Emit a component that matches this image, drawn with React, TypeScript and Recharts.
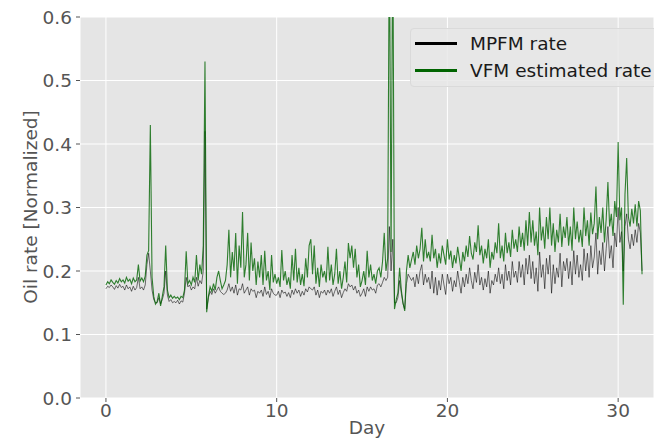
import React from 'react';
import { LineChart, Line, XAxis, YAxis, CartesianGrid, Legend } from 'recharts';

// VFM estimated oil rate, sampled every 0.1 day
const vfmRate = [
  0.178, 0.183, 0.18, 0.186, 0.182, 0.179, 0.185, 0.181, 0.188, 0.183,
  0.186, 0.181, 0.19, 0.184, 0.187, 0.18, 0.189, 0.183, 0.186, 0.21,
  0.184, 0.189, 0.183, 0.192, 0.225, 0.232, 0.43, 0.19, 0.16, 0.148,
  0.152, 0.165, 0.145, 0.16, 0.175, 0.24, 0.17, 0.158, 0.162, 0.157,
  0.16, 0.157, 0.159, 0.155, 0.16, 0.158, 0.17, 0.231, 0.18, 0.185,
  0.178, 0.19, 0.182, 0.225, 0.185, 0.21, 0.195, 0.24, 0.53, 0.135,
  0.16, 0.175, 0.168, 0.18, 0.17, 0.19, 0.2, 0.185, 0.172, 0.178,
  0.185, 0.21, 0.265, 0.19, 0.23, 0.2, 0.26, 0.18, 0.24, 0.205,
  0.293, 0.19, 0.21, 0.26, 0.185, 0.245, 0.2, 0.22, 0.178, 0.215,
  0.19, 0.225, 0.178, 0.232, 0.185, 0.2, 0.17, 0.225, 0.182, 0.195,
  0.18, 0.19, 0.175, 0.233, 0.185, 0.2, 0.178, 0.19, 0.172, 0.225,
  0.185, 0.235, 0.182, 0.205, 0.178, 0.195, 0.176, 0.22, 0.19, 0.24,
  0.25, 0.195, 0.24, 0.18, 0.205, 0.175, 0.21, 0.19, 0.2, 0.182,
  0.238, 0.185, 0.21, 0.178, 0.195, 0.235, 0.18, 0.2, 0.172, 0.19,
  0.215, 0.182, 0.244, 0.22, 0.24, 0.205, 0.235, 0.19, 0.21, 0.175,
  0.185, 0.2, 0.178, 0.232, 0.19, 0.21, 0.185, 0.195, 0.18, 0.2,
  0.205, 0.19, 0.215, 0.26, 0.2, 0.22, 0.75, 0.23, 0.75, 0.14,
  0.155, 0.165, 0.205, 0.17, 0.15, 0.137, 0.2, 0.225, 0.205, 0.218,
  0.23, 0.21, 0.24, 0.22, 0.235, 0.268, 0.215, 0.25, 0.22, 0.23,
  0.215, 0.257, 0.22, 0.235, 0.205, 0.228, 0.212, 0.24, 0.225, 0.21,
  0.25, 0.218, 0.232, 0.205, 0.225, 0.212, 0.238, 0.22, 0.2, 0.23,
  0.215, 0.24, 0.222, 0.255, 0.228, 0.218, 0.245, 0.23, 0.272, 0.225,
  0.24, 0.212, 0.235, 0.22, 0.25, 0.205, 0.23, 0.218, 0.245, 0.228,
  0.275, 0.22, 0.24, 0.215, 0.26, 0.228, 0.245, 0.222, 0.265, 0.235,
  0.25, 0.23, 0.27, 0.238, 0.26, 0.232, 0.28, 0.24, 0.293, 0.245,
  0.28, 0.24, 0.262, 0.225, 0.3, 0.248, 0.27, 0.235, 0.285, 0.25,
  0.3, 0.24, 0.275, 0.23, 0.265, 0.245, 0.29, 0.238, 0.27, 0.252,
  0.285, 0.24, 0.27, 0.232, 0.3, 0.25, 0.278, 0.245, 0.265, 0.238,
  0.3, 0.255, 0.28, 0.24, 0.292, 0.258, 0.275, 0.333, 0.25, 0.285,
  0.26, 0.3, 0.245, 0.282, 0.34, 0.27, 0.29, 0.255, 0.31, 0.285,
  0.403, 0.28, 0.3, 0.147, 0.32, 0.378, 0.285, 0.27, 0.298, 0.275,
  0.305, 0.27, 0.31, 0.295, 0.195,
];

// MPFM measured oil rate, same sampling
const mpfmRate = [
  0.172, 0.176, 0.174, 0.178, 0.175, 0.171, 0.177, 0.173, 0.179, 0.174,
  0.176, 0.17, 0.178, 0.172, 0.175, 0.168, 0.176, 0.17, 0.174, 0.19,
  0.172, 0.175, 0.17, 0.178, 0.21, 0.228, 0.2, 0.17, 0.155, 0.15,
  0.15, 0.158, 0.148, 0.155, 0.165, 0.2, 0.162, 0.152, 0.155, 0.15,
  0.152, 0.15, 0.154, 0.148, 0.153, 0.151, 0.165, 0.19, 0.175, 0.178,
  0.17, 0.175, 0.172, 0.19, 0.176, 0.185, 0.18, 0.2, 0.42, 0.14,
  0.158, 0.168, 0.163, 0.172, 0.165, 0.17, 0.175, 0.168, 0.165, 0.163,
  0.165, 0.17, 0.18, 0.168, 0.175, 0.165, 0.178, 0.162, 0.172, 0.17,
  0.18, 0.165, 0.17, 0.175, 0.162, 0.172, 0.168, 0.17, 0.158, 0.168,
  0.165, 0.17, 0.16, 0.175, 0.163, 0.168, 0.158, 0.172, 0.165, 0.162,
  0.162, 0.168, 0.158, 0.17, 0.165, 0.167, 0.16, 0.166, 0.158, 0.17,
  0.163, 0.172, 0.165, 0.17, 0.16, 0.168, 0.162, 0.172, 0.167, 0.175,
  0.172, 0.17, 0.175, 0.162, 0.17, 0.158, 0.168, 0.165, 0.17, 0.162,
  0.17, 0.165, 0.172, 0.16, 0.168, 0.175, 0.163, 0.17, 0.158, 0.166,
  0.172, 0.168, 0.18, 0.175, 0.178, 0.17, 0.176, 0.165, 0.17, 0.16,
  0.165, 0.172, 0.16, 0.175, 0.168, 0.175, 0.17, 0.172, 0.165, 0.178,
  0.18, 0.175, 0.182, 0.19, 0.185, 0.19, 0.27, 0.2, 0.25, 0.15,
  0.15, 0.158, 0.185, 0.165, 0.148, 0.14, 0.18, 0.195, 0.19, 0.185,
  0.19, 0.175, 0.195, 0.18, 0.2, 0.21, 0.178, 0.195, 0.182, 0.19,
  0.172, 0.2, 0.165, 0.19, 0.162, 0.185, 0.17, 0.195, 0.178, 0.163,
  0.195, 0.18, 0.19, 0.168, 0.185, 0.175, 0.2, 0.182, 0.165, 0.19,
  0.175, 0.195, 0.18, 0.205, 0.185, 0.172, 0.198, 0.182, 0.21, 0.178,
  0.19, 0.17, 0.188, 0.175, 0.2, 0.165, 0.185, 0.178, 0.195, 0.183,
  0.205, 0.18, 0.195, 0.172, 0.21, 0.185, 0.2, 0.178, 0.215, 0.19,
  0.2, 0.182, 0.215, 0.19, 0.21, 0.178, 0.22, 0.195, 0.225, 0.188,
  0.215, 0.18, 0.205, 0.168, 0.23, 0.19, 0.21, 0.172, 0.22, 0.195,
  0.225, 0.165, 0.21, 0.18, 0.205, 0.19, 0.228, 0.175, 0.215, 0.2,
  0.22, 0.188, 0.215, 0.178, 0.232, 0.195, 0.225, 0.19, 0.21, 0.185,
  0.235, 0.2, 0.228, 0.19, 0.24, 0.205, 0.222, 0.26, 0.195, 0.232,
  0.21, 0.245, 0.2, 0.235, 0.27, 0.22, 0.24, 0.205, 0.26, 0.238,
  0.3, 0.245, 0.262, 0.2, 0.27, 0.29, 0.25, 0.235, 0.258, 0.24,
  0.265, 0.245, 0.275, 0.26, 0.2,
];

const days = vfmRate.map((_, i) => i / 10);

const xTicks = [0, 10, 20, 30];
const yTicks = [0, 0.1, 0.2, 0.3, 0.4, 0.5, 0.6];

const seriesNames = ['MPFM rate', 'VFM estimated rate'];
const seriesColors = ['#000000', '#006400'];

const data = days.map((day, i) => ({ day, mpfm: mpfmRate[i], vfm: vfmRate[i] }));

const font = '"DejaVu Sans", sans-serif';
const textColor = '#555555';
const fontSize = 18.5;

const LegendBox = () => (
  <div
    style={{
      width: 260,
      height: 59,
      boxSizing: 'border-box',
      background: 'rgba(232,232,232,0.85)',
      border: '1px solid #dadada',
      borderRadius: 4,
      padding: '1px 0 0 4px',
      fontFamily: font,
      fontSize,
      color: '#1a1a1a',
    }}
  >
    {seriesNames.map((name, i) => (
      <div key={name} style={{ display: 'flex', alignItems: 'center', height: 27 }}>
        <span style={{ display: 'inline-block', width: 42, height: 3, background: seriesColors[i], marginRight: 13 }} />
        <span>{name}</span>
      </div>
    ))}
  </div>
);

const App = () => {
  return (
    <div style={{ position: 'absolute', left: 0, top: 0, width: 654, height: 440, overflow: 'hidden', background: '#fff' }}>
      <LineChart width={654} height={440} data={data} margin={{ top: 17, right: 0, left: 0, bottom: 0 }}>
        <CartesianGrid stroke="#ffffff" strokeWidth={1} fill="#e5e5e5" />
        <XAxis
          dataKey="day"
          type="number"
          domain={[-1.52, 32.1]}
          allowDataOverflow
          ticks={xTicks}
          height={42}
          axisLine={false}
          tickSize={4}
          tickMargin={2}
          tickLine={{ stroke: textColor }}
          tick={{ fontSize, fill: textColor, fontFamily: font }}
          label={{
            content: () => (
              <text x={367} y={434} textAnchor="middle" fontSize={fontSize} fill={textColor} fontFamily={font}>
                Day
              </text>
            ),
          }}
        />
        <YAxis
          type="number"
          domain={[0, 0.6]}
          allowDataOverflow
          ticks={yTicks}
          width={80}
          axisLine={false}
          tickSize={4}
          tickMargin={4}
          tickLine={{ stroke: textColor }}
          tickFormatter={(v: number) => v.toFixed(1)}
          tick={{ fontSize, fill: textColor, fontFamily: font }}
          label={{
            content: () => (
              <text
                x={30}
                y={207}
                transform="rotate(-90, 30, 207)"
                textAnchor="middle"
                dominantBaseline="central"
                fontSize={fontSize}
                fill={textColor}
                fontFamily={font}
              >
                Oil rate [Normalized]
              </text>
            ),
          }}
        />
        <Line
          dataKey="mpfm"
          name={seriesNames[0]}
          stroke={seriesColors[0]}
          strokeOpacity={0.55}
          strokeWidth={1}
          dot={false}
          type="linear"
          isAnimationActive={false}
        />
        <Line
          dataKey="vfm"
          name={seriesNames[1]}
          stroke={seriesColors[1]}
          strokeOpacity={0.8}
          strokeWidth={1.1}
          dot={false}
          type="linear"
          isAnimationActive={false}
        />
        <Legend
          layout="vertical"
          align="center"
          verticalAlign="middle"
          content={() => <LegendBox />}
          wrapperStyle={{ left: 410, top: 28, width: 260 }}
        />
      </LineChart>
    </div>
  );
};

export default App;
